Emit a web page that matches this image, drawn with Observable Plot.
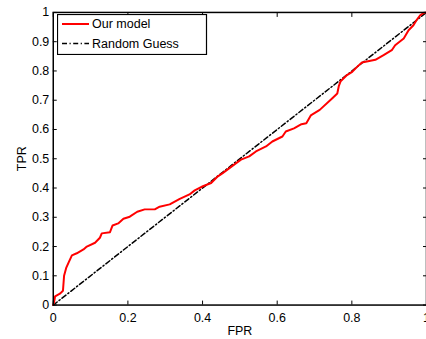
<!DOCTYPE html>
<html>
<head>
<meta charset="utf-8">
<script src="https://cdn.jsdelivr.net/npm/d3@7"></script>
<script src="https://cdn.jsdelivr.net/npm/@observablehq/plot@0.6"></script>
<style>
  html, body { margin: 0; padding: 0; background: #fff; overflow: hidden; }
  #wrap { position: relative; width: 426px; height: 339px; overflow: hidden; }
  #legend { position: absolute; left: 57px; top: 14px; }
  svg text { font-family: "Liberation Sans", Arial, Helvetica, sans-serif; }
</style>
</head>
<body>
<div id="wrap"><div id="chart"></div><div id="legend"></div></div>
<script>
// ROC curve of "Our model" (FPR, TPR)
const fpr = [0, 0.003, 0.005, 0.019, 0.026, 0.029, 0.035, 0.041, 0.05, 0.063, 0.081, 0.09, 0.112, 0.125, 0.13, 0.152, 0.159, 0.174, 0.188, 0.205, 0.225, 0.245, 0.272, 0.285, 0.312, 0.339, 0.365, 0.379, 0.401, 0.423, 0.441, 0.454, 0.472, 0.49, 0.503, 0.525, 0.543, 0.57, 0.587, 0.614, 0.623, 0.645, 0.665, 0.678, 0.69, 0.714, 0.747, 0.761, 0.765, 0.77, 0.787, 0.801, 0.814, 0.827, 0.863, 0.885, 0.907, 0.916, 0.939, 0.952, 0.965, 0.974, 0.983, 0.992, 1];
const tpr = [0, 0.015, 0.03, 0.04, 0.049, 0.10, 0.128, 0.145, 0.17, 0.177, 0.19, 0.20, 0.213, 0.23, 0.245, 0.249, 0.272, 0.279, 0.295, 0.302, 0.319, 0.327, 0.327, 0.336, 0.344, 0.363, 0.378, 0.392, 0.406, 0.417, 0.44, 0.451, 0.468, 0.485, 0.497, 0.508, 0.525, 0.542, 0.559, 0.576, 0.593, 0.604, 0.618, 0.621, 0.648, 0.667, 0.706, 0.723, 0.748, 0.765, 0.786, 0.797, 0.814, 0.829, 0.838, 0.854, 0.871, 0.888, 0.911, 0.939, 0.956, 0.975, 0.99, 0.998, 1];
// Random guess diagonal
const guessFpr = [0, 1];
const guessTpr = [0, 1];
const xTicks = [0, 0.2, 0.4, 0.6, 0.8, 1];
const yTicks = [0, 0.1, 0.2, 0.3, 0.4, 0.5, 0.6, 0.7, 0.8, 0.9, 1];
const seriesNames = ["Our model", "Random Guess"];
const xLabel = "FPR";
const yLabel = "TPR";

const model = fpr.map((x, i) => ({x, y: tpr[i]}));
const guess = guessFpr.map((x, i) => ({x, y: guessTpr[i]}));
const fmt = d => String(d);
const none = () => "";
const dashDot = "5,2.5,1.2,2.5";

const chart = Plot.plot({
  width: 428,
  height: 339,
  marginLeft: 53,
  marginRight: 0,
  marginTop: 12,
  marginBottom: 33,
  style: {fontSize: "12.5px", fontFamily: '"Liberation Sans", Arial, Helvetica, sans-serif', color: "#000", background: "#fff"},
  x: {domain: [0, 1]},
  y: {domain: [0, 1]},
  marks: [
    Plot.line(guess, {x: "x", y: "y", stroke: "#000", strokeWidth: 1.5, strokeDasharray: dashDot}),
    Plot.line(model, {x: "x", y: "y", stroke: "#ff0000", strokeWidth: 2}),
    Plot.axisX(xTicks, {anchor: "bottom", tickSize: 0, tickPadding: 8, tickFormat: fmt, label: xLabel, labelAnchor: "center", labelOffset: 30, labelArrow: "none"}),
    Plot.axisY(yTicks, {anchor: "left", tickSize: 0, tickPadding: 4, tickFormat: fmt, label: yLabel, labelAnchor: "center", labelOffset: 36, labelArrow: "none"}),
    Plot.axisX(xTicks, {anchor: "bottom", tickSize: -4, tickFormat: none, label: null}),
    Plot.axisX(xTicks, {anchor: "top", tickSize: -4, tickFormat: none, label: null}),
    Plot.axisY(yTicks, {anchor: "left", tickSize: -4, tickFormat: none, label: null}),
    Plot.axisY(yTicks, {anchor: "right", tickSize: -4, tickFormat: none, label: null}),
    Plot.frame({stroke: "#000", strokeWidth: 1.5})
  ]
});
document.getElementById("chart").appendChild(chart);

// Legend box
const ns = "http://www.w3.org/2000/svg";
const lg = document.createElementNS(ns, "svg");
lg.setAttribute("width", 151);
lg.setAttribute("height", 41);
const styles = [
  {stroke: "#ff0000", width: 2, dash: null},
  {stroke: "#000", width: 1.5, dash: dashDot}
];
const box = document.createElementNS(ns, "rect");
box.setAttribute("x", 0.5); box.setAttribute("y", 0.5);
box.setAttribute("width", 149); box.setAttribute("height", 40);
box.setAttribute("fill", "#fff"); box.setAttribute("stroke", "#000"); box.setAttribute("stroke-width", 1.2);
lg.appendChild(box);
seriesNames.forEach((name, i) => {
  const cy = 10 + i * 19.5;
  const ln = document.createElementNS(ns, "line");
  ln.setAttribute("x1", 5); ln.setAttribute("x2", 32);
  ln.setAttribute("y1", cy); ln.setAttribute("y2", cy);
  ln.setAttribute("stroke", styles[i].stroke);
  ln.setAttribute("stroke-width", styles[i].width);
  if (styles[i].dash) ln.setAttribute("stroke-dasharray", styles[i].dash);
  lg.appendChild(ln);
  const t = document.createElementNS(ns, "text");
  t.setAttribute("x", 35); t.setAttribute("y", cy);
  t.setAttribute("dy", "0.35em");
  t.setAttribute("font-size", "12.5px");
  t.textContent = name;
  lg.appendChild(t);
});
document.getElementById("legend").appendChild(lg);
</script>
</body>
</html>
